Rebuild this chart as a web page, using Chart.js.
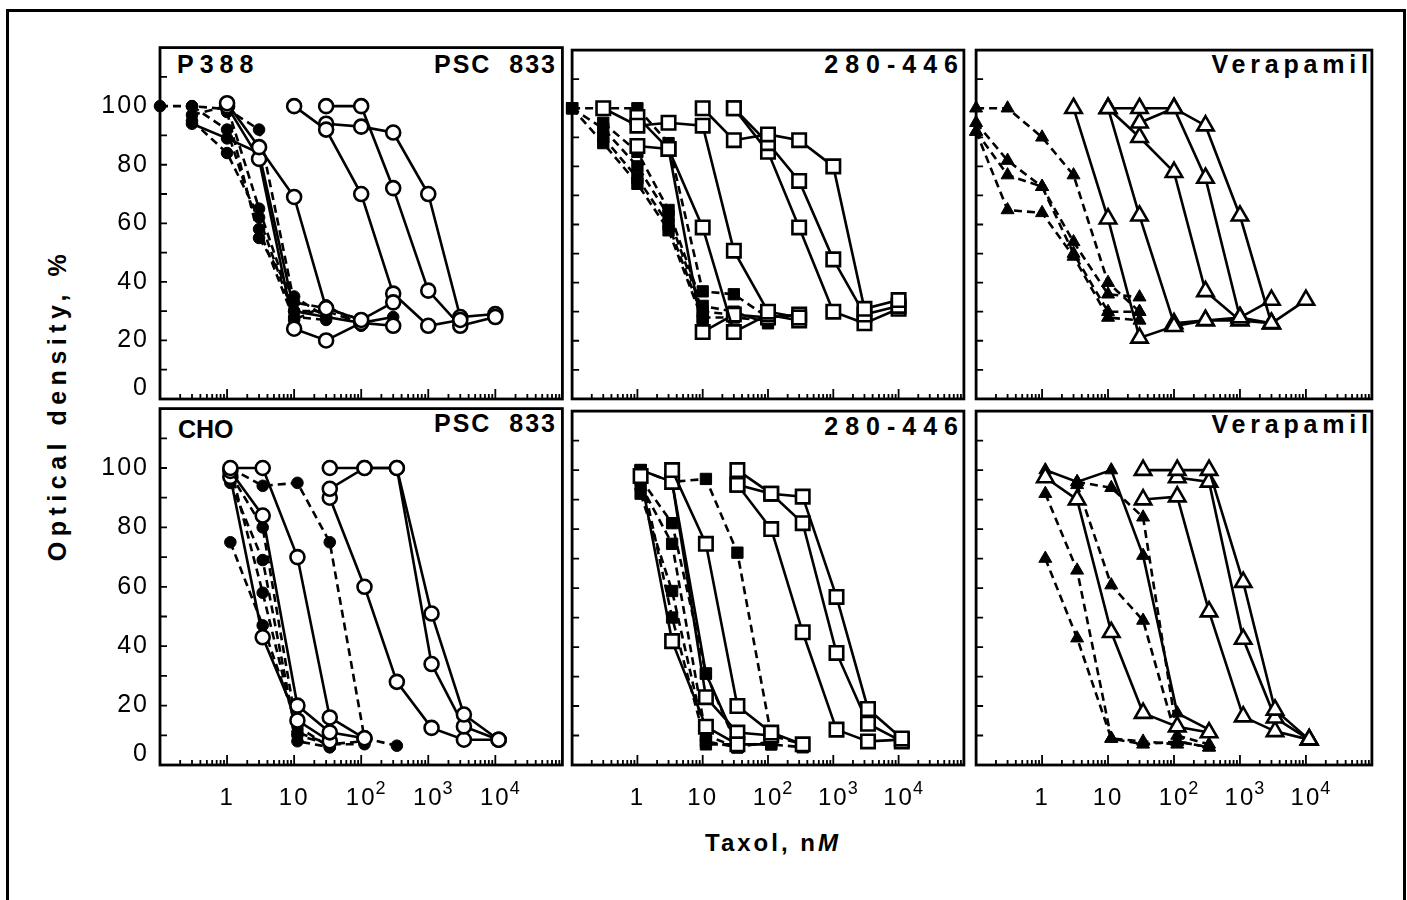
<!DOCTYPE html>
<html>
<head>
<meta charset="utf-8">
<script src="https://cdn.jsdelivr.net/npm/chart.js@4.4.1/dist/chart.umd.min.js"></script>
<style>
html,body{margin:0;padding:0;background:#fff;}
#fig{position:relative;width:1407px;height:900px;overflow:hidden;background:#fff;font-family:"Liberation Sans",Arial,Helvetica,sans-serif;color:#000;}
#frame{position:absolute;left:6px;top:9px;width:1400px;height:1000px;box-sizing:border-box;border:3px solid #000;border-bottom:none;}
canvas{position:absolute;}
.lab{position:absolute;font-weight:bold;font-size:25px;line-height:25px;white-space:pre;}
#ytitle{position:absolute;left:57px;top:405px;transform:translate(-50%,-50%) rotate(-90deg);font-weight:bold;font-size:25px;letter-spacing:5.5px;white-space:pre;}
#xtitle{position:absolute;left:773px;top:843px;transform:translate(-50%,-50%);font-weight:bold;font-size:24px;letter-spacing:3px;white-space:pre;}
</style>
</head>
<body>
<div id="fig">
  <div id="frame"></div>
  <div id="ytitle">Optical density, %</div>
  <div id="xtitle">Taxol, n<i>M</i></div>
</div>
<script>
// ---------------- data ----------------
const _ = null;
// taxol concentrations (nM) at which points are plotted
const concTop = [0.1, 0.3, 1, 3, 10, 30, 100, 300, 1000, 3000, 10000];
const concBottom = [0.11, 0.34, 1.12, 3.4, 11.2, 34, 112, 340, 1120, 3400, 11200];

// tick labels
const xTickValues = [1, 10, 100, 1000, 10000];
const xTickLabels = ['1', '10', '10', '10', '10'];
const xTickExponents = ['', '', '2', '3', '4'];
const yTickValues = [0, 20, 40, 60, 80, 100];
const yTickLabels = ['0', '20', '40', '60', '80', '100'];
const yMarkValues = [10, 20, 30, 40, 50, 60, 70, 80, 90, 100, 110];
const xMarkDecades = [-1, 0, 1, 2, 3, 4];
const xMarkFactors = [1, 2, 3, 4, 5, 6, 7, 8, 9];

// P388 + PSC 833 (circles)
const p388Psc_open = [
  [_, _, 101, 86, 69, 31, 27, 33, _, _, _],
  [_, _, 100, 82, 24, 20, 26, 25, _, _, _],
  [_, _, _, _, 100, 92, 70, 36, 25, 27, _],
  [_, _, _, _, _, 100, 100, 72, 37, 25, 28],
  [_, _, _, _, _, 94, 93, 91, 70, 28, 29]
];
const p388Psc_solidFilled = [
  [_, 94, 89, 84, 30, 28, 26, 28, _, _, _]
];
const p388Psc_dashed = [
  [100, 100, 99, 92, 33, 31, 27, _, _, _, _],
  [_, 97, 100, 65, 30, 30, 26, _, _, _, _],
  [_, 95, 84, 62, 28, 27, _, _, _, _, _],
  [_, 100, 92, 58, 27, 32, 25, _, _, _, _],
  [_, _, 98, 55, 35, 28, _, _, _, _, _]
];

// P388 + 280-446 (squares)
const p388Sdz_open = [
  [_, 100, 94, 95, 94, 51, 30, 28, _, _, _],
  [_, _, 87, 86, 59, 23, 29, 27, _, _, _],
  [_, _, 97, 86, 23, 29, 28, 29, _, _, _],
  [_, _, _, _, 100, 89, 91, 89, 80, 31, 34],
  [_, _, _, _, _, 100, 88, 75, 48, 29, 32],
  [_, _, _, _, _, 100, 85, 59, 30, 26, 31]
];
const p388Sdz_dashed = [
  [100, 100, 100, 88, 37, 36, 28, _, _, _, _],
  [100, 93, 80, 63, 30, 29, _, _, _, _, _],
  [_, 90, 76, 60, 28, 28, 27, _, _, _, _],
  [_, 95, 85, 65, 32, 30, 26, _, _, _, _],
  [100, 88, 74, 58, 27, _, _, _, _, _, _]
];

// P388 + Verapamil (triangles)
const p388Ver_open = [
  [_, _, _, 100, 62, 21, 25, 27, 28, 26, _],
  [_, _, _, _, 100, 63, 26, 27, 27, _, _],
  [_, _, _, _, 100, 100, 100, 94, 63, 26, 34],
  [_, _, _, _, _, 95, 100, 76, 28, 34, _],
  [_, _, _, _, 100, 90, 78, 37, 27, 26, _]
];
const p388Ver_dashed = [
  [100, 100, 90, 77, 40, 30, _, _, _, _, _],
  [95, 82, 73, 54, 36, 35, _, _, _, _, _],
  [92, 77, 73, 50, 30, 30, _, _, _, _, _],
  [92, 65, 64, 49, 28, 27, _, _, _, _, _]
];

// CHO + PSC 833 (circles)
const choPsc_open = [
  [_, _, 100, 100, 70, 16, 9, _, _, _, _],
  [_, _, 99, 84, 20, 11, 9, _, _, _, _],
  [_, _, 97, 43, 15, 8, _, _, _, _, _],
  [_, _, _, _, _, 100, 100, 100, 51, 17, 8.5],
  [_, _, _, _, _, 93, 100, 100, 34, 13, 8.5],
  [_, _, _, _, _, 90, 60, 28, 12.5, 8.5, 8.5]
];
const choPsc_dashed = [
  [_, _, 100, 94, 95, 75, 9, 6.5, _, _, _],
  [_, _, 98, 80, 11, 7, 8, _, _, _, _],
  [_, _, 95, 69, 8, 6, _, _, _, _, _],
  [_, _, 100, 58, 10, 7, 7, _, _, _, _],
  [_, _, 75, 47, 13, 6, _, _, _, _, _]
];

// CHO + 280-446 (squares)
const choSdz_open = [
  [_, _, _, 100, 75, 20, 11, 7, _, _, _],
  [_, _, 98, 42, 13, 7, _, _, _, _, _],
  [_, _, _, 96, 23, 11, 10, _, _, _, _],
  [_, _, _, _, _, 100, 92, 91, 57, 19, 9],
  [_, _, _, _, _, 95, 92, 82, 38, 14, 8],
  [_, _, _, _, _, 95, 80, 45, 12, 8, 8.6]
];
const choSdz_solidFilled = [
  [_, _, 100, 96, 31, 7, 7, _, _, _, _]
];
const choSdz_dashed = [
  [_, _, 100, 96, 97, 72, 10, 7, _, _, _],
  [_, _, 97, 82, 31, 6, 8, _, _, _, _],
  [_, _, 95, 75, 10, 6, _, _, _, _, _],
  [_, _, 92, 59, 8, 6, _, _, _, _, _],
  [_, _, 100, 50, 7, 7, 7, 6, _, _, _]
];

// CHO + Verapamil (triangles)
const choVer_open = [
  [_, _, 97.5, 90, 45, 17.6, 13, 11, _, _, _],
  [_, _, _, _, _, 100, 100, 100, 62, 18.7, 8.6],
  [_, _, _, _, _, _, 97.5, 96, 42.7, 16, 8.6],
  [_, _, _, _, _, 90, 91, 52, 16.4, 11.4, 8.6]
];
const choVer_solidFilled = [
  [_, _, 100, 96, 100, 71, 17.6, 12, _, _, _]
];
const choVer_dashed = [
  [_, _, 92, 66, 9, 7, 8, 6, _, _, _],
  [_, _, 70, 43, 9, 8, 7, _, _, _, _],
  [_, _, _, 96, 94, 84, 10, 7, _, _, _],
  [_, _, _, 95, 61, 49, 8, 6, _, _, _]
];

// ---------------- layout ----------------
const COLS = [[160, 566], [566, 970], [970, 1378]];
const ROWS = [[44, 405], [405, 765]];
const FONT = '"Liberation Sans", Arial, Helvetica, sans-serif';
const X_LABEL_SIZE = 24, X_EXP_SIZE = 18, X_LABEL_PAD = 20;

const panels = [
  {row:0, col:0, sym:'circle',   conc:concTop,    open:p388Psc_open, solidFilled:p388Psc_solidFilled, dashed:p388Psc_dashed},
  {row:0, col:1, sym:'rect',     conc:concTop,    open:p388Sdz_open, solidFilled:[], dashed:p388Sdz_dashed},
  {row:0, col:2, sym:'triangle', conc:concTop,    open:p388Ver_open, solidFilled:[], dashed:p388Ver_dashed},
  {row:1, col:0, sym:'circle',   conc:concBottom, open:choPsc_open, solidFilled:[], dashed:choPsc_dashed},
  {row:1, col:1, sym:'rect',     conc:concBottom, open:choSdz_open, solidFilled:choSdz_solidFilled, dashed:choSdz_dashed},
  {row:1, col:2, sym:'triangle', conc:concBottom, open:choVer_open, solidFilled:choVer_solidFilled, dashed:choVer_dashed}
];

const labels = [
  {t:'P388', x:177, y:52, ls:6, align:'left'},
  {t:'PSC  833', x:555, y:52, ls:2, align:'right'},
  {t:'280-446', x:958, y:52, ls:7, align:'right'},
  {t:'Verapamil', x:1368, y:52, ls:4.8, align:'right'},
  {t:'CHO', x:178, y:417, ls:0, align:'left'},
  {t:'PSC  833', x:555, y:411, ls:2, align:'right'},
  {t:'280-446', x:958, y:414, ls:7, align:'right'},
  {t:'Verapamil', x:1368, y:412, ls:4.8, align:'right'}
];

const SYM = {
  circle:   {open:7,   filled:5.8},
  rect:     {open:9.5, filled:8},
  triangle: {open:9.5, filled:7.5}
};

const fig = document.getElementById('fig');
labels.forEach(l => {
  const d = document.createElement('div');
  d.className = 'lab';
  d.textContent = l.t;
  d.style.letterSpacing = l.ls + 'px';
  d.style.top = l.y + 'px';
  if (l.align === 'left') d.style.left = l.x + 'px';
  else d.style.right = (1407 - l.x - l.ls) + 'px';
  fig.appendChild(d);
});

function pts(conc, vals) {
  return conc.map((c, i) => vals[i] == null ? null : {x: c, y: vals[i]}).filter(Boolean);
}
function mkDs(conc, vals, sym, kind) {
  const open = kind === 'open';
  return {
    data: pts(conc, vals),
    borderColor: '#000',
    borderWidth: 2.6,
    borderDash: kind === 'dashed' ? [8, 5] : [],
    pointStyle: sym,
    pointRadius: open ? SYM[sym].open : SYM[sym].filled,
    pointBorderWidth: open ? 2.6 : 1,
    pointBorderColor: '#000',
    pointBackgroundColor: open ? '#fff' : '#000',
    tension: 0,
    fill: false,
    clip: false
  };
}

const panelFrame = {
  id: 'panelFrame',
  beforeDraw(chart) { chart.ctx.letterSpacing = '2px'; },
  afterDatasetsDraw(chart) {
    const {ctx, chartArea: a, scales} = chart;
    const x = scales.x, y = scales.y;
    ctx.save();
    ctx.setLineDash([]);
    ctx.strokeStyle = '#000';
    ctx.lineWidth = 1.8;
    ctx.beginPath();
    xMarkDecades.forEach(e => xMarkFactors.forEach(k => {
      const px = x.getPixelForValue(k * Math.pow(10, e));
      if (px <= a.left + 1 || px >= a.right - 1) return;
      const len = k === 1 ? 10 : 5;
      ctx.moveTo(px, a.bottom);
      ctx.lineTo(px, a.bottom - len);
    }));
    yMarkValues.forEach(v => {
      const py = y.getPixelForValue(v);
      ctx.moveTo(a.left, py);
      ctx.lineTo(a.left + 7, py);
    });
    ctx.stroke();
    ctx.lineWidth = 2.8;
    ctx.strokeRect(a.left, a.top, a.right - a.left, a.bottom - a.top);
    ctx.restore();
  },
  afterDraw(chart) {
    const x = chart.scales.x;
    if (!x.options.display) return;
    const ctx = chart.ctx, a = chart.chartArea;
    ctx.save();
    ctx.letterSpacing = '2px';
    ctx.fillStyle = '#000';
    xTickValues.forEach((v, i) => {
      const e = xTickExponents[i];
      if (!e) return;
      ctx.font = X_LABEL_SIZE + 'px ' + FONT;
      const w = ctx.measureText(xTickLabels[i]).width;
      const px = x.getPixelForValue(v);
      ctx.font = X_EXP_SIZE + 'px ' + FONT;
      ctx.textAlign = 'left';
      ctx.textBaseline = 'top';
      ctx.fillText(e, px + w / 2 - 1, a.bottom + X_LABEL_PAD - 5);
    });
    ctx.restore();
  }
};

function zeroPad(s) { s.paddingLeft = 0; s.paddingRight = 0; s.paddingTop = 0; s.paddingBottom = 0; }

panels.forEach(p => {
  const [L, R] = COLS[p.col], [T, B] = ROWS[p.row];
  const showY = p.col === 0, showX = p.row === 1;
  const padL = showY ? 130 : 6, padR = 6, padT = 6, padB = showX ? 70 : 6;
  const cv = document.createElement('canvas');
  cv.width = R - L + padL + padR;
  cv.height = B - T + padT + padB;
  cv.style.left = (L - padL) + 'px';
  cv.style.top = (T - padT) + 'px';
  cv.style.width = cv.width + 'px';
  cv.style.height = cv.height + 'px';
  fig.appendChild(cv);

  const datasets = [];
  p.open.forEach(v => datasets.push(mkDs(p.conc, v, p.sym, 'open')));
  p.solidFilled.forEach(v => datasets.push(mkDs(p.conc, v, p.sym, 'solidFilled')));
  p.dashed.forEach(v => datasets.push(mkDs(p.conc, v, p.sym, 'dashed')));

  new Chart(cv, {
    type: 'line',
    data: {datasets},
    plugins: [panelFrame],
    options: {
      responsive: false,
      animation: false,
      devicePixelRatio: 1,
      events: [],
      layout: {padding: {left: showY ? 0 : padL, right: padR, top: padT, bottom: showX ? 0 : padB}},
      plugins: {legend: {display: false}, tooltip: {enabled: false}},
      scales: {
        x: {
          type: 'logarithmic', min: 0.1, max: 100000,
          display: showX,
          grid: {display: false, drawTicks: false},
          border: {display: false},
          afterBuildTicks: s => { s.ticks = xTickValues.map(v => ({value: v})); },
          afterFit: s => { s.height = padB; zeroPad(s); },
          ticks: {
            autoSkip: false, maxRotation: 0, minRotation: 0, padding: X_LABEL_PAD,
            color: '#000',
            font: {family: FONT, size: X_LABEL_SIZE, lineHeight: 1.1},
            callback: v => { const i = xTickValues.findIndex(t => Math.abs(t - v) < 1e-6 * t); return i < 0 ? '' : xTickLabels[i]; }
          }
        },
        y: {
          type: 'linear', min: 0, max: 120,
          display: showY,
          grid: {display: false, drawTicks: false},
          border: {display: false},
          afterBuildTicks: s => { s.ticks = yTickValues.map(v => ({value: v})); },
          afterFit: s => { s.width = padL; zeroPad(s); },
          ticks: {
            autoSkip: false, padding: 11,
            color: '#000',
            font: {family: FONT, size: 25, lineHeight: 0.85},
            callback: v => { const i = yTickValues.indexOf(v); if (i < 0) return ''; return v === 0 ? [yTickLabels[i], ''] : yTickLabels[i]; }
          }
        }
      }
    }
  });
});
</script>
</body>
</html>
